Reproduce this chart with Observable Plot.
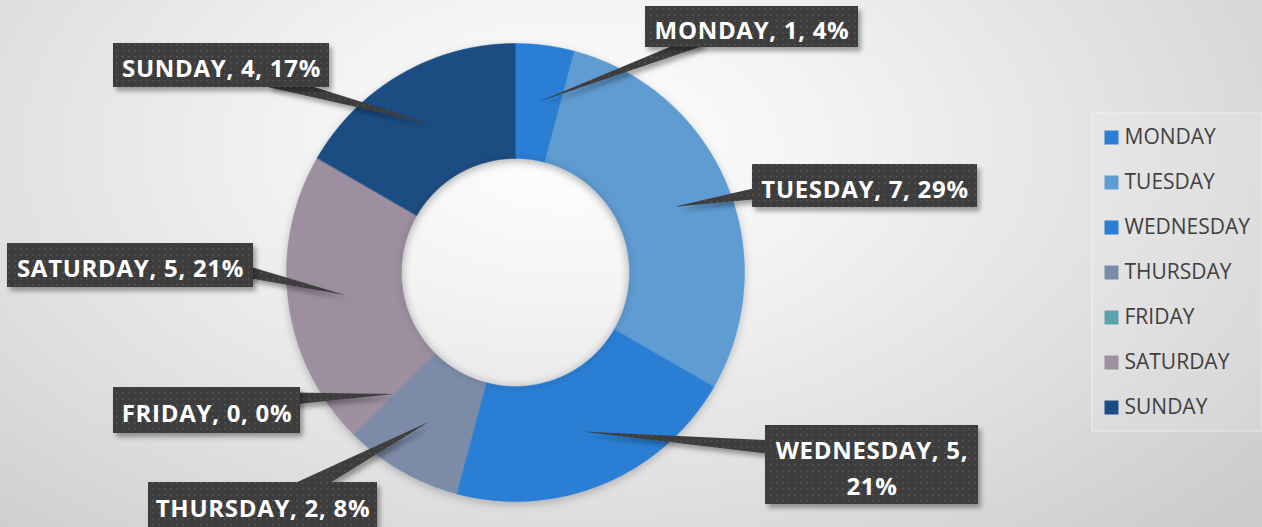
<!DOCTYPE html>
<html><head><meta charset="utf-8">
<script src="https://cdn.jsdelivr.net/npm/d3@7"></script>
<script src="https://cdn.jsdelivr.net/npm/@observablehq/plot@0.6"></script>
<style>
html,body{margin:0;padding:0;}
#chart{width:1262px;height:527px;overflow:hidden;
background:radial-gradient(ellipse 70% 100% at 45% 28%, #ffffff 0%, #f3f3f3 30%, #dedede 70%, #cdcdcd 100%);}
</style></head><body><div id="chart"></div>
<script>
// ---- data ----
const days = ["MONDAY","TUESDAY","WEDNESDAY","THURSDAY","FRIDAY","SATURDAY","SUNDAY"];
const counts = [1, 7, 5, 2, 0, 5, 4];
const colors = ["#2b7fd5","#5e9cd2","#2b7fd5","#7b8ca8","#5ba3ac","#9d8fa0","#1b4d82"];

// ---- layout ----
const W = 1262, H = 527;
const cx = 515, cy = 272, rOuter = 229, rInner = 114, rTip = 172;
// label box (x1,x2,y1,y2) and pointer base (bx,by,hw) in pixels, one per day
const labelBoxes = [
  {x1:645, x2:858, y1:6,   y2:47,  bx:700, by:40,  hw:6},
  {x1:752, x2:977, y1:164, y2:207, bx:762, by:192, hw:6},
  {x1:765, x2:978, y1:425, y2:504, bx:775, by:447, hw:7},
  {x1:148, x2:377, y1:482, y2:532, bx:300, by:490, hw:9},
  {x1:113, x2:300, y1:387, y2:433, bx:292, by:398, hw:6},
  {x1:7,   x2:253, y1:243, y2:287, bx:245, by:271, hw:6},
  {x1:113, x2:329, y1:43,  y2:87,  bx:270, by:80,  hw:7}
];
const legendX = 1111, legendY0 = 137, legendStep = 45;

// ---- derived ----
const total = d3.sum(counts);
const arcs = d3.pie().sort(null).value(d => d)(counts);
const pt = (a, r) => [cx + r * Math.sin(a), cy - r * Math.cos(a)];

const slicePts = [];
arcs.forEach((a, i) => {
  if (a.endAngle - a.startAngle <= 0) return;
  const n = Math.max(2, Math.ceil((a.endAngle - a.startAngle) / (Math.PI / 360)));
  for (let k = 0; k <= n; k++) {
    const t = a.startAngle + (a.endAngle - a.startAngle) * k / n;
    const [x, y] = pt(t, rOuter); slicePts.push({day: days[i], x, y});
  }
  for (let k = n; k >= 0; k--) {
    const t = a.startAngle + (a.endAngle - a.startAngle) * k / n;
    const [x, y] = pt(t, rInner); slicePts.push({day: days[i], x, y});
  }
});

const labels = days.map((d, i) => {
  const a = arcs[i];
  const mid = (a.startAngle + a.endAngle) / 2;
  const [tx, ty] = pt(mid, rTip);
  const b = labelBoxes[i];
  const pct = Math.round(counts[i] / total * 100);
  const txt = d === "WEDNESDAY" ? `${d}, ${counts[i]},\n${pct}%` : `${d}, ${counts[i]}, ${pct}%`;
  return {day: d, tx, ty, ...b, cxBox: (b.x1 + b.x2) / 2, cyBox: d === "THURSDAY" ? 505 : (b.y1 + b.y2) / 2, text: txt};
});
const wedgePts = [];
labels.forEach(l => {
  const dx = l.bx - l.tx, dy = l.by - l.ty, len = Math.hypot(dx, dy);
  const px = -dy / len * l.hw, py = dx / len * l.hw;
  wedgePts.push({day: l.day, x: l.tx, y: l.ty});
  wedgePts.push({day: l.day, x: l.bx + px, y: l.by + py});
  wedgePts.push({day: l.day, x: l.bx - px, y: l.by - py});
});
const legendRows = days.map((d, i) => ({day: d, x: legendX, y: legendY0 + i * legendStep}));

const svg = Plot.plot({
  width: W, height: H,
  margin: 0,
  style: {background: "transparent", overflow: "visible"},
  x: {domain: [0, W], range: [0, W], axis: null},
  y: {domain: [0, H], range: [0, H], axis: null},
  color: {domain: days, range: colors},
  marks: [
    Plot.line(slicePts, {x: "x", y: "y", z: "day", fill: "day", stroke: "day", strokeWidth: 0.5, curve: "linear-closed", className: "donut"}),
    Plot.dot([0], {x: cx, y: cy, r: rInner, fill: "none", stroke: "#000", strokeOpacity: 0.10, strokeWidth: 5, className: "hole"}),
    Plot.line(wedgePts, {x: "x", y: "y", z: "day", fill: "#3d3d3d", strokeOpacity: 0, curve: "linear-closed", className: "pointers"}),
    Plot.rect(labels, {x1: "x1", x2: "x2", y1: "y1", y2: "y2", fill: "#3d3d3d", className: "boxes"}),
    Plot.text(labels, {x: "cxBox", y: "cyBox", text: "text", fill: "#ffffff", fontSize: 24, fontWeight: "bold", fontFamily: "Open Sans", lineHeight: 1.5, className: "labels"}),
    Plot.rect([0], {x1: 1092, x2: 1262, y1: 113, y2: 431, fill: "#ffffff", fillOpacity: 0.12, stroke: "#ffffff", strokeOpacity: 0.5}),
    Plot.dot(legendRows, {x: "x", y: "y", fill: "day", symbol: "square", r: 7.9, stroke: "none"}),
    Plot.text(legendRows, {x: d => d.x + 13, y: "y", text: "day", textAnchor: "start", fill: "#404040", fontSize: 21, fontFamily: "Open Sans"})
  ]
});

const s = d3.select(svg);
const defs = s.insert("defs", ":first-child");
const pat = defs.append("pattern").attr("id", "dots").attr("patternUnits", "userSpaceOnUse").attr("width", 6).attr("height", 6);
pat.append("rect").attr("width", 6).attr("height", 6).attr("fill", "#3d3d3d");
pat.append("rect").attr("x", 2).attr("y", 2).attr("width", 1.5).attr("height", 1.5).attr("fill", "#595959");
const f = defs.append("filter").attr("id", "shadow").attr("x", "-20%").attr("y", "-20%").attr("width", "140%").attr("height", "140%");
f.append("feDropShadow").attr("dx", 3).attr("dy", 4).attr("stdDeviation", 2.5).attr("flood-color", "#000").attr("flood-opacity", 0.35);
const f2 = defs.append("filter").attr("id", "shadow2").attr("x", "-20%").attr("y", "-20%").attr("width", "140%").attr("height", "140%");
f2.append("feDropShadow").attr("dx", 0).attr("dy", 3).attr("stdDeviation", 4).attr("flood-color", "#000").attr("flood-opacity", 0.22);
const f3 = defs.append("filter").attr("id", "blur3");
f3.append("feGaussianBlur").attr("stdDeviation", 3);
s.selectAll("g.boxes, g.pointers").attr("filter", "url(#shadow)");
s.selectAll("g.boxes, g.pointers").attr("fill", "url(#dots)");
s.selectAll("g.boxes rect, g.pointers path").attr("fill", null);
s.selectAll("g.donut").attr("filter", "url(#shadow2)");
s.selectAll("g.hole").attr("filter", "url(#blur3)");
s.selectAll("g.labels text").style("letter-spacing", "0.7px");
document.getElementById("chart").appendChild(svg);
</script>
</body></html>
